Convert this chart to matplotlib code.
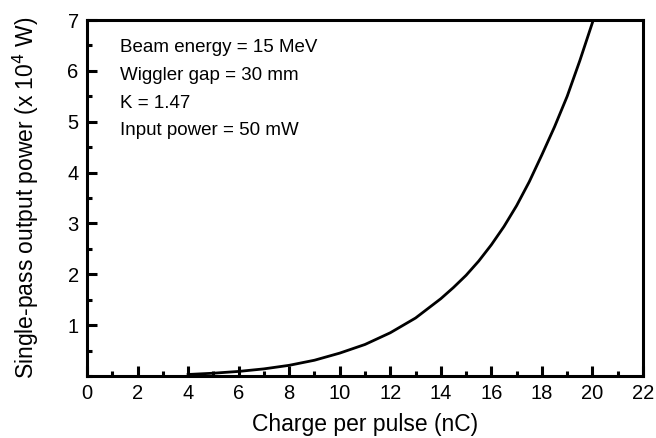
import matplotlib
matplotlib.use("Agg")
import matplotlib.pyplot as plt
from matplotlib.ticker import MultipleLocator

charge = [4, 5, 6, 7, 8, 9, 10, 11, 12, 13, 14, 14.5, 15, 15.5, 16, 16.5,
          17, 17.5, 18, 18.5, 19, 19.5, 20, 20.2]
power = [0.03, 0.055, 0.09, 0.14, 0.21, 0.31, 0.45, 0.62, 0.85, 1.14, 1.52,
         1.74, 1.98, 2.26, 2.58, 2.94, 3.35, 3.82, 4.35, 4.9, 5.5, 6.2,
         6.95, 7.25]
notes = ["Beam energy = 15 MeV", "Wiggler gap = 30 mm", "K = 1.47",
         "Input power = 50 mW"]
x_ticks = list(range(0, 23, 2))
y_ticks = [1, 2, 3, 4, 5, 6, 7]

plt.rcParams['font.family'] = ['Liberation Sans', 'DejaVu Sans']

fig = plt.figure(figsize=(6.56, 4.38), dpi=100)
ax = fig.add_axes([87/656, 1-376/438, (643-87)/656, (376-20)/438])
ax.plot(charge, power, color='black', lw=2.0, solid_joinstyle='round')
ax.set_xlim(0, 22)
ax.set_ylim(0, 7)
ax.set_xticks(x_ticks)
ax.set_yticks(y_ticks)
ax.xaxis.set_minor_locator(MultipleLocator(1))
ax.yaxis.set_minor_locator(MultipleLocator(0.5))
ax.tick_params(which='major', direction='in', length=7, width=2.2,
               labelsize=14.5, pad=6, top=False, right=False)
ax.tick_params(which='minor', direction='in', length=3.5, width=2.2,
               top=False, right=False)
for s in ax.spines.values():
    s.set_linewidth(2.2)
ax.set_xlabel("Charge per pulse (nC)", fontsize=16.5, labelpad=7)
ax.set_ylabel("Single-pass output power (x 10$^4$ W)", fontsize=16.5, labelpad=19)
for i, t in enumerate(notes):
    ax.text(120/656, 1-(48+27.5*i)/438, t, transform=fig.transFigure,
            fontsize=13.5, va='center', ha='left')
fig.savefig("out.png", dpi=100)
